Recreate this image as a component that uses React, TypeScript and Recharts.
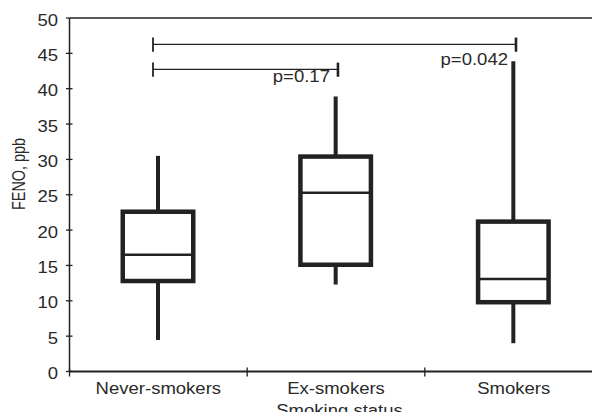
import React from 'react';
import { ComposedChart, Bar, XAxis, YAxis, ReferenceLine, ReferenceDot } from 'recharts';

// ---- data ----
const categories = ['Never-smokers', 'Ex-smokers', 'Smokers'];
const categoryPositions = [0.5, 1.5, 2.5];
const whiskerLow = [4.45, 12.3, 4.0];
const quartile1 = [12.8, 15.1, 9.8];
const medians = [16.5, 25.3, 13.1];
const quartile3 = [22.6, 30.4, 21.2];
const whiskerHigh = [30.5, 38.9, 43.9];

const yTicks = [0, 5, 10, 15, 20, 25, 30, 35, 40, 45, 50];
const xTicks = [0, 0.5, 1, 1.5, 2, 2.5];
const xAxisTitle = 'Smoking status';
const yAxisTitle = 'FENO, ppb';

// significance brackets (data units)
const bracketLabels = ['p=0.17', 'p=0.042'];
const bracketStart = [0.47, 0.47];
const bracketEnd = [1.511, 2.513];
const bracketLevel = [42.74, 46.28];
const bracketLabelX = [1.466, 2.468];
const bracketLabelY = [40.9, 43.35];

const rows = categories.map((name, i) => ({
  name,
  pos: categoryPositions[i],
  lo: whiskerLow[i],
  q1: quartile1[i],
  med: medians[i],
  q3: quartile3[i],
  hi: whiskerHigh[i],
}));

// ---- styles ----
const INK = '#222';
const TEXT = '#2a2a2a';
const FONT = '"Liberation Sans", Arial, Helvetica, sans-serif';

function SText(props: any) {
  const { x, y, anchor = 'middle', size = 17, sx = 1.09, rotate = 0, length, children } = props;
  return (
    <g transform={`translate(${x},${y}) rotate(${rotate}) scale(${sx},1)`}>
      <text
        x={0}
        y={0}
        textAnchor={anchor}
        fontSize={size}
        fontFamily={FONT}
        fill={TEXT}
        textLength={length}
        lengthAdjust={length ? 'spacingAndGlyphs' : undefined}
      >
        {children}
      </text>
    </g>
  );
}

const XTick = (props: any) => {
  const { x, y, payload } = props;
  const v = payload.value;
  const idx = categoryPositions.indexOf(v);
  if (idx >= 0) {
    return (
      <g>
        <SText x={x} y={y + 22.5}>{categories[idx]}</SText>
        {idx === 1 && <SText x={x + 3.5} y={y + 44}>{xAxisTitle}</SText>}
      </g>
    );
  }
  return <line x1={x} x2={x} y1={y - 4} y2={y + 5} stroke={INK} strokeWidth={1.3} />;
};

const YTick = (props: any) => {
  const { x, y, payload } = props;
  const v = payload.value;
  return (
    <g>
      <line x1={x - 3.5} x2={v === 50 ? x : x + 3} y1={y} y2={y} stroke={INK} strokeWidth={1.3} />
      <SText x={x - 11.5} y={y + 7.5} anchor="end">{v}</SText>
      {v === 25 && (
        <SText x={x - 44.5} y={y - 20.75} rotate={-90} sx={1} size={18} length={72}>
          {yAxisTitle}
        </SText>
      )}
    </g>
  );
};

const BoxShape = (props: any) => {
  const { x, y, width, height, payload } = props;
  if (!payload) return null;
  const top = Math.min(y, y + height);
  const h = Math.abs(height);
  const k = h / (payload.hi - payload.lo);
  const py = (v: number) => top + (payload.hi - v) * k;
  const cx = x + width / 2;
  const sw = 4.5;
  const bx = x + sw / 2;
  const bw = width - sw;
  return (
    <g>
      <line x1={cx} x2={cx} y1={py(payload.hi)} y2={py(payload.q3)} stroke={INK} strokeWidth={4} />
      <line x1={cx} x2={cx} y1={py(payload.q1)} y2={py(payload.lo)} stroke={INK} strokeWidth={4} />
      <rect
        x={bx}
        y={py(payload.q3)}
        width={bw}
        height={py(payload.q1) - py(payload.q3)}
        fill="#fff"
        stroke={INK}
        strokeWidth={sw}
      />
      <line x1={bx} x2={bx + bw} y1={py(payload.med)} y2={py(payload.med)} stroke={INK} strokeWidth={2.5} />
    </g>
  );
};

export default function App() {
  return (
    <div style={{ width: 592, height: 412, overflow: 'hidden', marginBottom: -8 }}>
      <ComposedChart
        width={600}
        height={412}
        data={rows}
        margin={{ top: 10, right: 5.5, bottom: 0, left: 0 }}
      >
        <XAxis
          type="number"
          dataKey="pos"
          domain={[0, 3]}
          ticks={xTicks}
          interval={0}
          tickSize={0}
          tickMargin={0}
          tickLine={false}
          axisLine={{ stroke: INK, strokeWidth: 2 }}
          height={48.5}
          tick={<XTick />}
        />
        <YAxis
          type="number"
          domain={[0, 50]}
          ticks={yTicks}
          interval={0}
          tickSize={0}
          tickMargin={0}
          tickLine={false}
          axisLine={{ stroke: INK, strokeWidth: 1.5 }}
          width={61.5}
          tick={<YTick />}
        />
        <ReferenceLine y={50} stroke={INK} strokeWidth={1.3} />
        <Bar
          dataKey={(d: any) => [d.lo, d.hi]}
          barSize={75}
          shape={<BoxShape />}
          isAnimationActive={false}
        />
        {bracketLabels.map((lab, i) => (
          <ReferenceLine
            key={`h${i}`}
            segment={[
              { x: bracketStart[i], y: bracketLevel[i] },
              { x: bracketEnd[i], y: bracketLevel[i] },
            ]}
            stroke={INK}
            strokeWidth={1.3}
          />
        ))}
        {bracketLabels.map((lab, i) => (
          <ReferenceLine
            key={`l${i}`}
            segment={[
              { x: bracketStart[i], y: bracketLevel[i] - 1.05 },
              { x: bracketStart[i], y: bracketLevel[i] + 0.95 },
            ]}
            stroke={INK}
            strokeWidth={1.8}
          />
        ))}
        {bracketLabels.map((lab, i) => (
          <ReferenceLine
            key={`r${i}`}
            segment={[
              { x: bracketEnd[i], y: bracketLevel[i] - 1.05 },
              { x: bracketEnd[i], y: bracketLevel[i] + 0.95 },
            ]}
            stroke={INK}
            strokeWidth={2.6}
          />
        ))}
        {bracketLabels.map((lab, i) => (
          <ReferenceDot
            key={`t${i}`}
            x={bracketLabelX[i]}
            y={bracketLabelY[i]}
            r={0}
            shape={(p: any) => (
              <SText x={p.cx} y={p.cy} anchor="end">{lab}</SText>
            )}
          />
        ))}
      </ComposedChart>
    </div>
  );
}
